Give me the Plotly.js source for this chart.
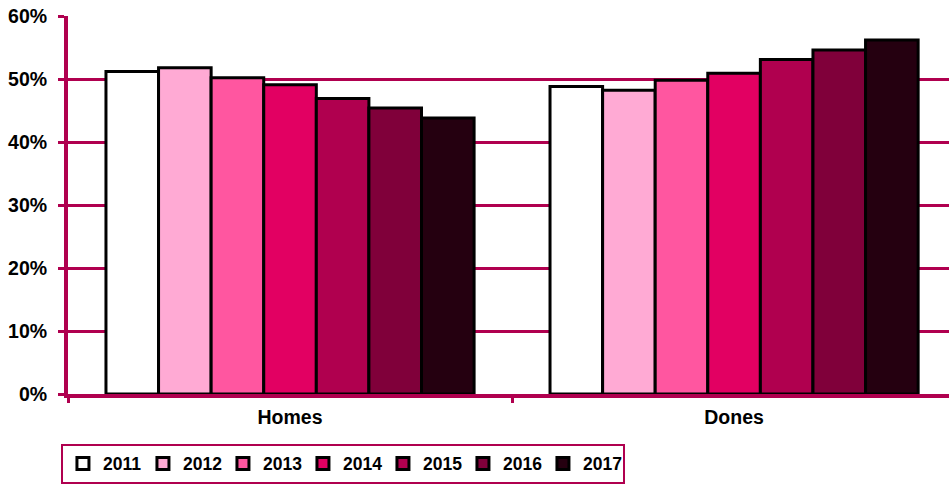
<!DOCTYPE html>
<html>
<head>
<meta charset="utf-8">
<script src="https://cdn.plot.ly/plotly-3.0.1.min.js"></script>
<style>html,body{margin:0;padding:0;background:#fff;}#chart{width:949px;height:484px;}</style>
</head>
<body>
<div id="chart"></div>
<script>
var categories = ['Homes', 'Dones'];
var years = ['2011', '2012', '2013', '2014', '2015', '2016', '2017'];
var homes = [51.2, 51.8, 50.2, 49.1, 46.9, 45.4, 43.8];
var dones = [48.8, 48.2, 49.8, 50.9, 53.1, 54.6, 56.2];
var colors = ['#FFFFFF', '#FFAAD4', '#FF56A0', '#E20062', '#B0004F', '#80003A', '#250010'];

var crimson = '#B0004F';
var fam = 'Liberation Sans, Arial, sans-serif';
var traces = years.map(function (yr, i) {
  return {
    type: 'bar',
    name: yr,
    x: categories,
    y: [homes[i], dones[i]],
    marker: {color: colors[i], line: {color: '#000000', width: 3}},
    hoverinfo: 'skip'
  };
});

var layout = {
  width: 949,
  height: 484,
  margin: {l: 68, r: 0, t: 16, b: 87, pad: 0},
  paper_bgcolor: '#FFFFFF',
  plot_bgcolor: '#FFFFFF',
  font: {family: fam, color: '#000000'},
  barmode: 'group',
  bargap: 0.171,
  bargroupgap: 0,
  showlegend: true,
  legend: {
    orientation: 'h',
    x: -0.008, xanchor: 'left',
    y: -0.131, yanchor: 'top',
    bordercolor: crimson, borderwidth: 2,
    bgcolor: '#FFFFFF',
    font: {size: 17.5, family: fam, weight: 'bold', color: '#000'},
    itemwidth: 30,
    entrywidth: 35,
    traceorder: 'normal'
  },
  xaxis: {
    type: 'category',
    range: [-0.5, 1.484],
    showline: true, linecolor: crimson, linewidth: 4,
    ticks: 'outside', tickson: 'boundaries', ticklen: 5, tickwidth: 3, tickcolor: crimson,
    showgrid: false,
    tickfont: {size: 19.5, weight: 'bold', family: fam},
    ticklabelstandoff: 3,
    fixedrange: true
  },
  yaxis: {
    range: [0, 60],
    dtick: 10, tick0: 0,
    ticksuffix: '%',
    showline: true, linecolor: crimson, linewidth: 4,
    ticks: 'outside', ticklen: 6, tickwidth: 3, tickcolor: crimson,
    showgrid: true, gridcolor: crimson, gridwidth: 3,
    zeroline: false,
    tickfont: {size: 19.5, weight: 'bold', family: fam},
    ticklabelstandoff: 7,
    fixedrange: true
  }
};

Plotly.newPlot('chart', traces, layout, {displayModeBar: false, staticPlot: true});
</script>
</body>
</html>
